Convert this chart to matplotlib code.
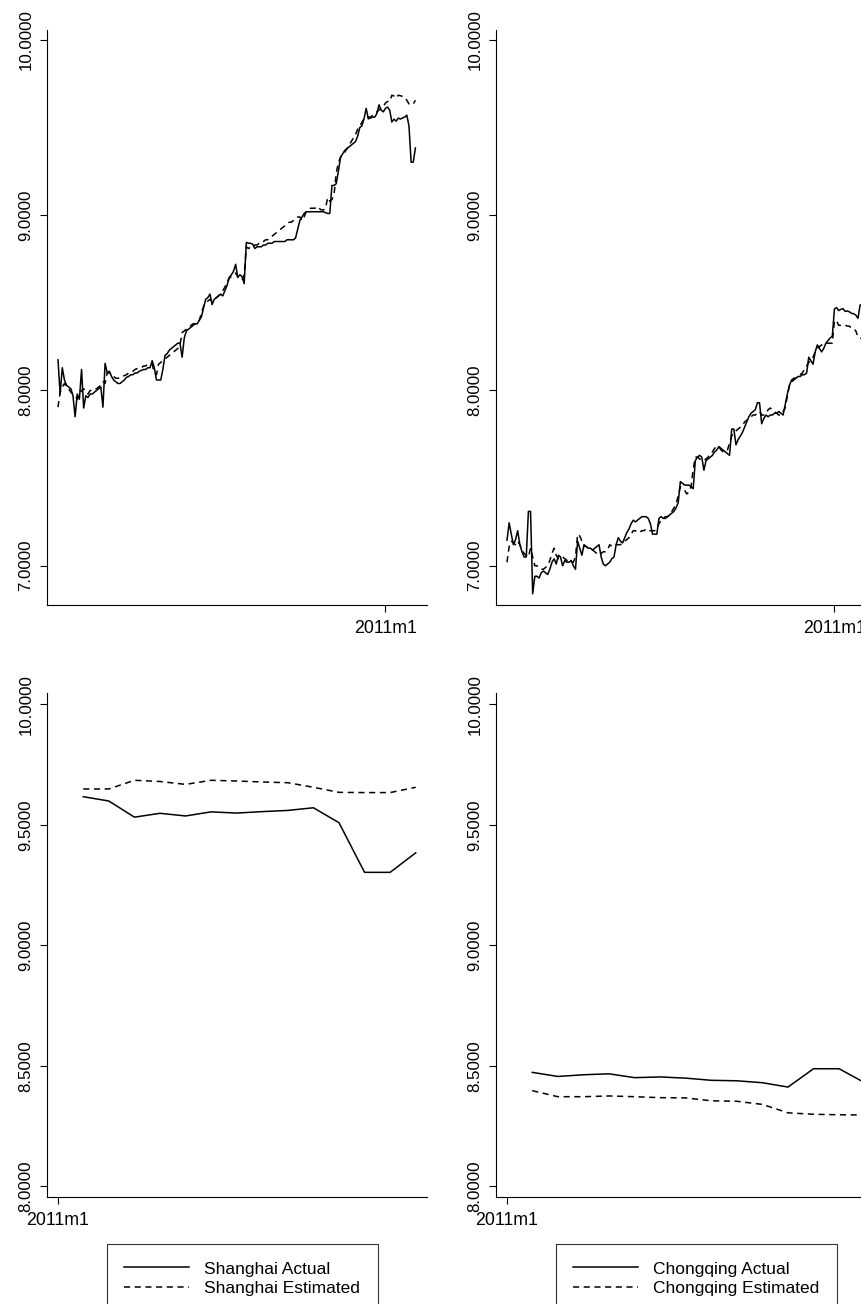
import numpy as np
import matplotlib.pyplot as plt

plt.rcParams['font.family'] = ['Liberation Sans', 'DejaVu Sans']

# monthly series, 1998m4 .. 2012m3 (log scale)
START_YEAR, START_MONTH = 1998, 4

shanghai_actual = [
    8.175, 7.98, 8.13, 8.06, 8.03, 8.02, 8.01, 7.97, 7.85, 7.98,
    7.95, 8.12, 7.90, 7.97, 7.96, 7.98, 7.98, 7.99, 8.00, 8.01,
    8.02, 7.905, 8.155, 8.10, 8.11, 8.08, 8.06, 8.05, 8.04, 8.04,
    8.05, 8.06, 8.075, 8.08, 8.09, 8.09, 8.10, 8.10, 8.11, 8.115,
    8.12, 8.12, 8.13, 8.13, 8.17, 8.13, 8.06, 8.06, 8.06, 8.12,
    8.20, 8.21, 8.23, 8.24, 8.25, 8.26, 8.27, 8.27, 8.19, 8.30,
    8.34, 8.35, 8.36, 8.37, 8.38, 8.38, 8.40, 8.42, 8.47, 8.52,
    8.53, 8.55, 8.49, 8.52, 8.53, 8.54, 8.55, 8.54, 8.57, 8.60,
    8.645, 8.66, 8.68, 8.72, 8.645, 8.66, 8.65, 8.61, 8.845, 8.84,
    8.84, 8.835, 8.81, 8.82, 8.82, 8.82, 8.83, 8.83, 8.84, 8.84,
    8.84, 8.85, 8.85, 8.85, 8.85, 8.85, 8.85, 8.86, 8.86, 8.86,
    8.86, 8.87, 8.92, 8.97, 8.99, 9.01, 9.02, 9.02, 9.02, 9.02,
    9.02, 9.02, 9.02, 9.02, 9.02, 9.015, 9.01, 9.01, 9.17, 9.17,
    9.18, 9.25, 9.33, 9.35, 9.37, 9.38, 9.39, 9.40, 9.41, 9.42,
    9.45, 9.50, 9.51, 9.55, 9.61, 9.55, 9.555, 9.56, 9.56, 9.58,
    9.63, 9.60, 9.59, 9.61,
    9.617, 9.599, 9.532, 9.548, 9.537, 9.554, 9.549, 9.555, 9.560, 9.571,
    9.509, 9.303, 9.303, 9.384]

shanghai_estimated = [
    7.905, 7.99, 8.02, 8.04, 8.02, 8.01, 7.99, 7.98, 7.97, 7.95,
    7.98, 8.00, 8.01, 7.99, 7.98, 8.00, 8.00, 8.01, 8.01, 8.02,
    8.03, 8.05, 8.04, 8.10, 8.10, 8.09, 8.08, 8.07, 8.07, 8.07,
    8.08, 8.085, 8.09, 8.10, 8.10, 8.11, 8.12, 8.125, 8.13, 8.13,
    8.14, 8.14, 8.15, 8.15, 8.15, 8.10, 8.09, 8.15, 8.16, 8.17,
    8.18, 8.19, 8.20, 8.21, 8.22, 8.23, 8.24, 8.26, 8.33, 8.34,
    8.35, 8.36, 8.37, 8.38, 8.38, 8.39, 8.40, 8.44, 8.48, 8.50,
    8.51, 8.52, 8.51, 8.52, 8.53, 8.54, 8.55, 8.57, 8.59, 8.62,
    8.64, 8.65, 8.66, 8.67, 8.65, 8.64, 8.63, 8.66, 8.82, 8.81,
    8.82, 8.82, 8.83, 8.83, 8.84, 8.84, 8.85, 8.86, 8.86, 8.87,
    8.88, 8.89, 8.90, 8.91, 8.92, 8.93, 8.94, 8.95, 8.96, 8.96,
    8.97, 8.98, 8.99, 8.99, 8.97, 8.99, 9.02, 9.03, 9.04, 9.04,
    9.04, 9.05, 9.04, 9.03, 9.03, 9.04, 9.10, 9.08, 9.09, 9.12,
    9.24, 9.30, 9.33, 9.35, 9.36, 9.38, 9.40, 9.42, 9.44, 9.46,
    9.49, 9.51, 9.53, 9.55, 9.55, 9.56, 9.56, 9.57, 9.58, 9.59,
    9.60, 9.61, 9.62, 9.64,
    9.649, 9.649, 9.685, 9.680, 9.668, 9.685, 9.682, 9.678, 9.675, 9.656,
    9.635, 9.634, 9.634, 9.656]

chongqing_actual = [
    7.146, 7.245, 7.18, 7.12, 7.15, 7.20, 7.12, 7.08, 7.05, 7.05,
    7.31, 7.31, 6.84, 6.94, 6.94, 6.93, 6.96, 6.97, 6.96, 6.95,
    6.98, 7.02, 7.04, 7.01, 7.06, 7.05, 7.00, 7.03, 7.02, 7.02,
    7.03, 7.00, 6.98, 7.14, 7.10, 7.06, 7.12, 7.11, 7.10, 7.10,
    7.09, 7.10, 7.11, 7.12, 7.05, 7.01, 7.00, 7.01, 7.02, 7.04,
    7.05, 7.12, 7.16, 7.14, 7.13, 7.16, 7.19, 7.21, 7.24, 7.26,
    7.25, 7.26, 7.27, 7.28, 7.28, 7.28, 7.27, 7.24, 7.18, 7.18,
    7.18, 7.27, 7.28, 7.27, 7.27, 7.28, 7.29, 7.30, 7.31, 7.33,
    7.36, 7.48, 7.47, 7.46, 7.46, 7.46, 7.45, 7.44, 7.60, 7.62,
    7.63, 7.62, 7.545, 7.60, 7.61, 7.62, 7.63, 7.65, 7.66, 7.68,
    7.67, 7.66, 7.65, 7.64, 7.63, 7.78, 7.78, 7.69, 7.72, 7.74,
    7.76, 7.79, 7.82, 7.85, 7.87, 7.88, 7.89, 7.93, 7.93, 7.81,
    7.84, 7.86, 7.85, 7.86, 7.86, 7.87, 7.87, 7.88, 7.87, 7.86,
    7.92, 7.98, 8.03, 8.06, 8.07, 8.07, 8.08, 8.08, 8.09, 8.09,
    8.10, 8.19, 8.17, 8.15, 8.22, 8.26, 8.24, 8.22, 8.24, 8.27,
    8.285, 8.30, 8.31, 8.465,
    8.473, 8.456, 8.463, 8.467, 8.451, 8.454, 8.449, 8.440, 8.438, 8.430,
    8.412, 8.488, 8.488, 8.430]

chongqing_estimated = [
    7.02, 7.11, 7.14, 7.13, 7.12, 7.14, 7.12, 7.09, 7.07, 7.06,
    7.05, 7.10, 7.05, 7.00, 7.00, 6.99, 6.98, 6.98, 6.99, 7.00,
    7.03, 7.07, 7.10, 7.06, 7.04, 7.04, 7.05, 7.04, 7.03, 7.03,
    7.02, 7.02, 7.05, 7.18, 7.17, 7.14, 7.11, 7.11, 7.10, 7.10,
    7.09, 7.08, 7.07, 7.06, 7.07, 7.08, 7.08, 7.09, 7.12, 7.11,
    7.12, 7.12, 7.12, 7.12, 7.13, 7.14, 7.15, 7.16, 7.18, 7.20,
    7.20, 7.19, 7.19, 7.20, 7.20, 7.21, 7.20, 7.20, 7.20, 7.20,
    7.21, 7.24, 7.26, 7.27, 7.28, 7.28, 7.29, 7.31, 7.33, 7.35,
    7.40, 7.45, 7.44, 7.43, 7.41, 7.42, 7.45, 7.55, 7.62, 7.62,
    7.61, 7.60, 7.60, 7.61, 7.62, 7.64, 7.65, 7.67, 7.68, 7.68,
    7.66, 7.65, 7.65, 7.66, 7.70, 7.74, 7.76, 7.77, 7.78, 7.79,
    7.80, 7.82, 7.83, 7.84, 7.85, 7.86, 7.86, 7.87, 7.88, 7.86,
    7.86, 7.87, 7.89, 7.90, 7.89, 7.88, 7.87, 7.86, 7.86, 7.88,
    7.90, 7.97, 8.03, 8.05, 8.06, 8.07, 8.08, 8.09, 8.10, 8.12,
    8.14, 8.16, 8.17, 8.19, 8.22, 8.24, 8.25, 8.26, 8.27, 8.27,
    8.27, 8.27, 8.27, 8.40,
    8.397, 8.372, 8.372, 8.375, 8.372, 8.368, 8.367, 8.355, 8.353, 8.340,
    8.305, 8.299, 8.297, 8.296]

TOP_YTICKS = [7, 8, 9, 10]
BOTTOM_YTICKS = [8, 8.5, 9, 9.5, 10]
ZOOM_MONTHS = 14

DASHES = (4, 3)
FIG_W, FIG_H = 861, 1304


def month_index(year, month):
    """Months elapsed since the first observation."""
    return (year - START_YEAR) * 12 + (month - START_MONTH)


def px_axes(fig, left, top, right, bottom):
    """Add axes placed by pixel edges (figure origin at the top left)."""
    return fig.add_axes([left / FIG_W, 1 - bottom / FIG_H,
                         (right - left) / FIG_W, (bottom - top) / FIG_H])


def style_axes(ax, yticks, xtick):
    for side in ['top', 'right']:
        ax.spines[side].set_visible(False)
    for side in ['left', 'bottom']:
        ax.spines[side].set_linewidth(0.8)
    ax.set_yticks(yticks)
    ax.set_yticklabels(["{:.4f}".format(v) for v in yticks],
                       rotation=90, va='center', fontsize=12.2)
    ax.set_xticks([xtick])
    ax.set_xticklabels(["2011m1"], fontsize=12.8)
    ax.tick_params(axis='y', length=5, width=0.8, pad=4.5)
    ax.tick_params(axis='x', length=5, width=0.8, pad=6)


def plot_panel(ax, actual, estimated, start):
    t = np.arange(len(actual))[start:]
    ax.plot(t, actual[start:], color='black', linewidth=1.1)
    ax.plot(t, estimated[start:], color='black', linewidth=1.1,
            linestyle='--', dashes=DASHES)


fig = plt.figure(figsize=(FIG_W / 100, FIG_H / 100), dpi=100)
jan2011 = month_index(2011, 1)
n = len(shanghai_actual)

cities = [
    (shanghai_actual, shanghai_estimated, "Shanghai", 46.7),
    (chongqing_actual, chongqing_estimated, "Chongqing", 495.7),
]

for actual, estimated, name, x0 in cities:
    # full sample
    ax = px_axes(fig, x0, 30, x0 + 380, 605)
    plot_panel(ax, np.array(actual), np.array(estimated), 0)
    ax.set_xlim(-5.28, n - 1 + 5.28)
    ax.set_ylim(6.776, 10.057)
    style_axes(ax, TOP_YTICKS, jan2011)

    # months after 2011m1
    ax2 = px_axes(fig, x0, 693.3, x0 + 380, 1196.7)
    plot_panel(ax2, np.array(actual), np.array(estimated), n - ZOOM_MONTHS)
    ax2.set_xlim(jan2011 - 0.43, n - 1 + 0.43)
    ax2.set_ylim(7.957, 10.046)
    style_axes(ax2, BOTTOM_YTICKS, jan2011)

    h1, = ax2.plot([], [], color='black', linewidth=1.1)
    h2, = ax2.plot([], [], color='black', linewidth=1.1,
                   linestyle='--', dashes=DASHES)
    leg = ax2.legend([h1, h2], [name + " Actual", name + " Estimated"],
                     loc='upper left',
                     bbox_to_anchor=((x0 + 60) / FIG_W, 1 - 1244 / FIG_H),
                     bbox_transform=fig.transFigure,
                     fontsize=12.5, frameon=True, fancybox=False,
                     edgecolor='black', borderpad=1.0, handlelength=3.75,
                     handletextpad=0.88, labelspacing=0.26, borderaxespad=0)
    leg.get_frame().set_linewidth(0.8)

fig.savefig("out.png", dpi=100)
